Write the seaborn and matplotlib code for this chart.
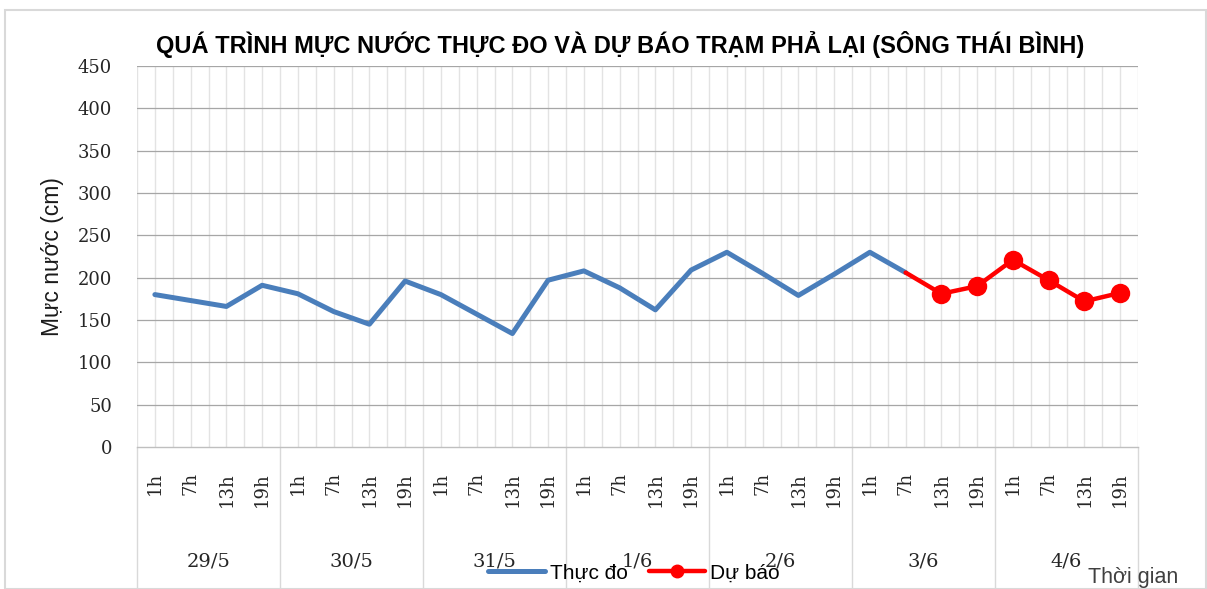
import matplotlib
matplotlib.use("Agg")
import matplotlib.pyplot as plt
import matplotlib.transforms as mtransforms
from matplotlib.lines import Line2D
from matplotlib.patches import Rectangle
import seaborn as sns
import pandas as pd
import numpy as np

# ---- data ----
days = ["29/5", "30/5", "31/5", "1/6", "2/6", "3/6", "4/6"]
hours = ["1h", "7h", "13h", "19h"]
tick_labels = [h for d in days for h in hours]

actual_values = [180, 173, 166, 191, 181, 160, 145, 196, 180, 157, 134, 197,
                 208, 188, 162, 209, 230, 205, 179, 204, 230, 206]
forecast_values = [206, 181, 190, 221, 197, 172, 182]
forecast_start = 21

title = "QUÁ TRÌNH MỰC NƯỚC THỰC ĐO VÀ DỰ BÁO TRẠM PHẢ LẠI (SÔNG THÁI BÌNH)"
ylabel = "Mực nước (cm)"
xlabel = "Thời gian"
legend_labels = ["Thực đo", "Dự báo"]

df_actual = pd.DataFrame({"pos": np.arange(len(actual_values)), "value": actual_values})
df_fc = pd.DataFrame({"pos": np.arange(forecast_start, forecast_start + len(forecast_values)),
                      "value": forecast_values})

sns.set_theme(style="white")
plt.rcParams["font.family"] = ["Liberation Sans", "DejaVu Sans"]

W, H = 1207, 589
fig = plt.figure(figsize=(W / 100, H / 100), dpi=100)
fig.patch.set_facecolor("white")

# outer chart frame
fig.patches.append(Rectangle((5 / W, 0.0), (W - 6) / W, 1 - 10 / H, transform=fig.transFigure,
                             fill=False, edgecolor="#D9D9D9", linewidth=1.5, zorder=0))

L, R, T, B = 137, 1138, 66, 447
ax = fig.add_axes([L / W, 1 - B / H, (R - L) / W, (B - T) / H])

serif = ["DejaVu Serif"]
sans = ["Liberation Sans", "DejaVu Sans"]

# gridlines
ax.set_xlim(-0.5, len(tick_labels) - 0.5)
ax.set_ylim(0, 450)
ax.set_yticks(np.arange(0, 451, 50))
for v in np.arange(50, 451, 50):
    ax.axhline(v, color="#A6A6A6", lw=0.9, zorder=1)
for xv in np.arange(-0.5, len(tick_labels), 0.5):
    ax.axvline(xv, color="#E3E3E3", lw=1.0, zorder=0.5)

sns.lineplot(data=df_actual, x="pos", y="value", ax=ax, color="#4A7EBB", lw=3.6,
             zorder=3, legend=False)
sns.lineplot(data=df_fc, x="pos", y="value", ax=ax, color="#FF0000", lw=3.2,
             marker="o", markersize=14, markeredgewidth=0,
             markevery=list(range(1, len(forecast_values))), zorder=4, legend=False)

for s in ["top", "right", "left"]:
    ax.spines[s].set_visible(False)
ax.spines["bottom"].set_color("#BFBFBF")
ax.spines["bottom"].set_linewidth(1.0)

ax.set_xticks(np.arange(len(tick_labels)))
ax.set_xticklabels(tick_labels, rotation=90, fontsize=13, family=serif, color="#262626")
ax.tick_params(axis="x", length=0, pad=18)
ax.tick_params(axis="y", length=0, pad=18)
for lab in ax.get_yticklabels():
    lab.set_family(serif)
    lab.set_fontsize(13)
    lab.set_color("#262626")
ax.set_xlabel("")
ax.set_ylabel(ylabel, fontsize=16.5, family=sans, color="#1A1A1A", labelpad=10)

# day labels and separators
blend = mtransforms.blended_transform_factory(ax.transData, fig.transFigure)
for i, d in enumerate(days):
    ax.text(1.5 + 4 * i, 1 - 562 / H, d, transform=blend, ha="center", va="center",
            fontsize=14, family=serif, color="#262626")
for i in range(len(days) + 1):
    ax.add_line(Line2D([-0.5 + 4 * i, -0.5 + 4 * i], [1 - B / H, 0.0], transform=blend,
                       color="#D9D9D9", lw=1.0, clip_on=False))

fig.text(620 / W, 1 - 45 / H, title, ha="center", va="center", fontsize=17,
         fontweight="bold", color="#000000")

handles = [Line2D([], [], color="#4A7EBB", lw=3.6),
           Line2D([], [], color="#FF0000", lw=3.2, marker="o", markersize=9)]
fig.legend(handles, legend_labels, loc="center", bbox_to_anchor=(634 / W, 1 - 573 / H),
           ncol=2, frameon=False, handlelength=2.7, handletextpad=0.25, columnspacing=1.0,
           prop={"family": sans, "size": 15}, labelcolor="#000000")

fig.text(1088 / W, 1 - 577 / H, xlabel, ha="left", va="center", fontsize=15.5,
         family=sans, color="#404040")

fig.savefig("out.png", dpi=100)
